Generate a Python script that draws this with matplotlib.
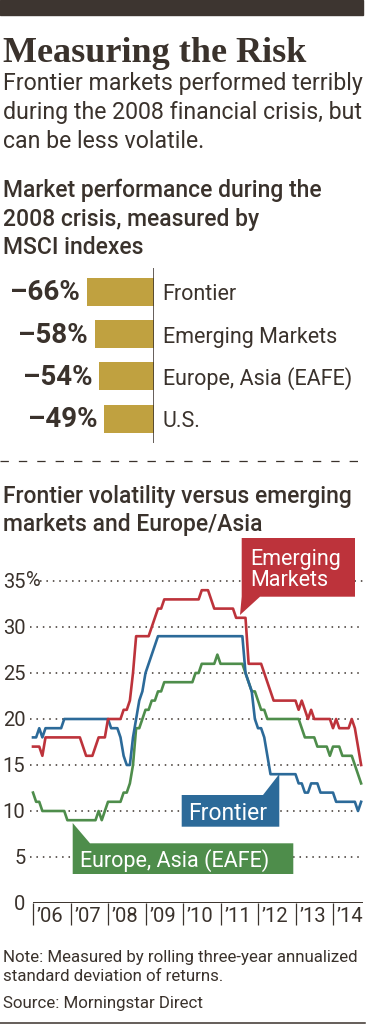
import numpy as np
import matplotlib
matplotlib.use('Agg')
import matplotlib.pyplot as plt
from matplotlib.patches import Polygon, Rectangle
from matplotlib.lines import Line2D
from matplotlib.transforms import ScaledTranslation

# market performance during the 2008 crisis (MSCI indexes, %)
bar_names = ['Frontier', 'Emerging Markets', 'Europe, Asia (EAFE)', 'U.S.']
bar_values = [-66, -58, -54, -49]
bar_texts = ['\u201366%', '\u201358%', '\u201354%', '\u201349%']

# rolling 3-yr volatility, monthly from Jan 2006 (one row per year)
emerging = [17, 17, 17, 16, 18, 18, 18, 18, 18, 18, 18, 18,
            18, 18, 18, 18, 17, 16, 16, 16, 17, 18, 18, 18,
            20, 20, 20, 20, 20, 21, 21, 22, 25, 29, 29, 29,
            29, 29, 30, 31, 32, 32, 33, 33, 33, 33, 33, 33,
            33, 33, 33, 33, 33, 33, 34, 34, 34, 33, 32, 32,
            32, 32, 32, 32, 32, 31, 31, 31, 31, 26, 26, 26,
            26, 26, 25, 24, 23, 22, 22, 22, 22, 22, 22, 22,
            22, 21, 22, 21, 20, 21, 20, 20, 20, 20, 20, 20,
            19, 20, 19, 19, 19, 19, 20, 19, 17, 15]
frontier = [18, 18, 19, 18, 19, 19, 19, 19, 19, 19, 20, 20,
            20, 20, 20, 20, 20, 20, 20, 20, 20, 20, 20, 20,
            20, 19, 19, 19, 18, 16, 15, 15, 18, 20, 22, 23,
            25, 26, 27, 28, 29, 29, 29, 29, 29, 29, 29, 29,
            29, 29, 29, 29, 29, 29, 29, 29, 29, 29, 29, 29,
            29, 29, 29, 29, 29, 29, 29, 29, 25, 24, 23, 20,
            19, 19, 18, 16, 14, 14, 14, 14, 14, 14, 14, 14,
            14, 13, 13, 12, 12, 13, 13, 13, 12, 12, 12, 12,
            12, 11, 11, 11, 11, 11, 11, 11, 10, 11]
eafe = [12, 11, 11, 10, 10, 10, 10, 10, 10, 10, 10, 9,
        9, 9, 9, 9, 9, 9, 9, 9, 9, 10, 9, 10,
        11, 11, 11, 11, 11, 12, 12, 13, 15, 19, 19, 20,
        21, 21, 22, 22, 23, 23, 24, 24, 24, 24, 24, 24,
        24, 24, 24, 24, 25, 25, 26, 26, 26, 26, 26, 27,
        26, 26, 26, 26, 26, 26, 26, 26, 25, 24, 23, 23,
        22, 21, 21, 20, 20, 20, 20, 20, 20, 20, 20, 20,
        20, 20, 19, 18, 18, 18, 18, 17, 17, 17, 17, 16,
        17, 17, 17, 16, 16, 16, 16, 15, 14, 13]
months = 2006 + np.arange(len(emerging)) / 12

y_ticks = [0, 5, 10, 15, 20, 25, 30, 35]
y_labels = ['0', '5', '10', '15', '20', '25', '30', '35']
years = [2006, 2007, 2008, 2009, 2010, 2011, 2012, 2013, 2014]
year_labels = ['\u2019%02d' % (y % 100) for y in years]

DARK = '#3a322c'
RED = '#bd333b'
BLUE = '#2c6a99'
GREEN = '#4e8d4b'
GOLD = '#c0a140'

W, H = 367, 1024
plt.rcParams['font.family'] = ['Roboto', 'DejaVu Sans']
fig = plt.figure(figsize=(W / 100, H / 100), dpi=100)
fig.patch.set_facecolor('white')


def fx(px):
    return px / W


def fy(py):
    return 1 - py / H


def put(px, py, s, size, weight='normal', color=DARK, **kw):
    fig.text(fx(px), fy(py), s, fontsize=size, fontweight=weight,
             color=color, va='baseline', ha='left', **kw)


# header
fig.add_artist(Rectangle((0, fy(15)), fx(363), 15 / H, color='#3d3530',
                         transform=fig.transFigure))
put(3, 62, 'Measuring the Risk', 26, 'bold', family=['Liberation Serif'])
put(3, 90, 'Frontier markets performed terribly', 16.7)
put(3, 119, 'during the 2008 financial crisis, but', 16.7)
put(3, 148, 'can be less volatile.', 16.7)

put(3, 197, 'Market performance during the', 16.5, 'medium')
put(3, 226, '2008 crisis, measured by', 16.5, 'medium')
put(3, 254, 'MSCI indexes', 16.5, 'medium')

# bar chart
scale = 1.02  # px per percent
axb = fig.add_axes([0, fy(443), fx(154.3), (443 - 268) / H])
pitch = 42.17
axb.set_xlim(-154.3 / scale, 0)
axb.set_ylim(3 + (175 - 150.5) / pitch, -24 / pitch)
ypos = np.arange(len(bar_values))
axb.barh(ypos, bar_values, height=28 / pitch, color=GOLD)
axb.axvline(0, color=DARK, lw=1.1)
for i, (v, t, n) in enumerate(zip(bar_values, bar_texts, bar_names)):
    axb.annotate(t, xy=(v, i), xytext=(-7, -8.5), textcoords='offset pixels',
                 ha='right', va='baseline', fontsize=20, fontweight='bold',
                 color=DARK)
    axb.annotate(n, xy=(0, i), xytext=(8.4, -8.5), textcoords='offset pixels',
                 ha='left', va='baseline', fontsize=15.5,
                 color=DARK, annotation_clip=False)
axb.axis('off')

# separator
fig.add_artist(Line2D([0, fx(365)], [fy(461), fy(461)], transform=fig.transFigure,
                      color=DARK, lw=0.9, ls=(0, (6.7, 8))))

put(3, 503, 'Frontier volatility versus emerging', 16.5, 'medium')
put(3, 531, 'markets and Europe/Asia', 16.5, 'medium')

# line chart
px_year = 37.5
ax = fig.add_axes([fx(30), fy(903), 333 / W, 331 / H])
ax.set_xlim(2006 - 3 / px_year, 2006 + 330 / px_year)
ax.set_ylim(0, 331 / 9.2)
for s in ax.spines.values():
    s.set_visible(False)
ax.set_yticks(y_ticks, y_labels)
ax.tick_params(axis='y', length=0, pad=3.3, labelsize=14.5, labelcolor=DARK)
ax.text(-4 / 333, 35, '%', transform=ax.get_yaxis_transform(),
        ha='left', va='center', fontsize=14.5, color=DARK)
for y in y_ticks[1:]:
    start = 10 / 333 if y == 35 else 0
    ax.axhline(y, xmin=start, xmax=1, color=DARK, lw=1.1, ls=(0, (1, 3.2)), zorder=1)
ax.hlines(0, years[0], ax.get_xlim()[1], color=DARK, lw=1.4, zorder=3)

ax.set_xticks(years, year_labels)
ax.tick_params(axis='x', direction='out', length=16, width=0.9, color=DARK,
               pad=-13, labelsize=14.5, labelcolor=DARK)
shift = ScaledTranslation(4 / 100, 0, fig.dpi_scale_trans)
for t in ax.get_xticklabels():
    t.set_horizontalalignment('left')
    t.set_transform(t.get_transform() + shift)

ax.plot(months, eafe, color=GREEN, lw=1.9, zorder=4)
ax.plot(months, frontier, color=BLUE, lw=1.9, zorder=5)
ax.plot(months, emerging, color=RED, lw=1.9, zorder=6)


# call-out labels
def callout(points, color):
    pts = [(fx(x), fy(y)) for x, y in points]
    fig.add_artist(Polygon(pts, closed=True, color=color, lw=0,
                           transform=fig.transFigure, zorder=5))


callout([(241.7, 538), (355, 538), (355, 596.7), (260, 596.7), (240, 615),
         (241.7, 596.7)], RED)
put(250, 565, 'Emerging', 15.5, color='white', zorder=6)
put(250, 586, 'Markets', 15.5, color='white', zorder=6)

callout([(181.7, 795), (263, 795), (279.3, 774), (279.3, 826.7),
         (181.7, 826.7)], BLUE)
put(188, 820, 'Frontier', 16.5, color='white', zorder=6)

callout([(72.7, 823), (90, 843.3), (293.3, 843.3), (293.3, 874),
         (72.7, 874)], GREEN)
put(80, 866.5, 'Europe, Asia (EAFE)', 15.5, color='white', zorder=6)

# footnotes
put(3, 962, 'Note: Measured by rolling three-year annualized', 12.2)
put(3, 981, 'standard deviation of returns.', 12.2)
put(3, 1008, 'Source: Morningstar Direct', 12.2)
fig.add_artist(Line2D([0, fx(365)], [fy(1022.5), fy(1022.5)],
                      transform=fig.transFigure, color=DARK, lw=1.1))

fig.savefig('out.png', dpi=100)
